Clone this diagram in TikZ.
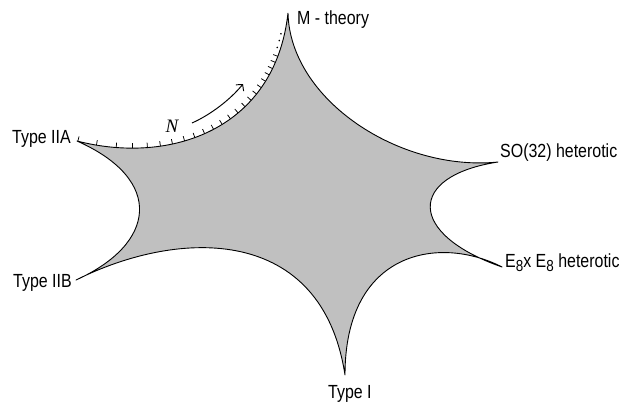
\documentclass[tikz,border=0pt]{standalone}
\usepackage{fontspec}
\setmainfont{Liberation Sans}
\newfontfamily\labfont[FakeStretch=0.84]{Liberation Sans}
\newfontfamily\nfont{Liberation Serif}
\usetikzlibrary{decorations.markings,arrows.meta}
\definecolor{regiongray}{RGB}{192,192,192}
\newcommand{\subeight}{\raisebox{-0.26em}{\fontsize{16}{16}\selectfont 8}}
\begin{document}
\begin{tikzpicture}[x=1pt,y=-1pt,
  lab/.style={font=\labfont\fontsize{19}{21}\selectfont, inner sep=0pt, anchor=base west},
  outline/.style={line width=0.9pt, line join=round},
  tickline/.style={line width=0.75pt}]
\useasboundingbox (0,0) rectangle (630,402);
\coordinate (M) at (288,13);
\coordinate (SO) at (498,162);
\coordinate (EE) at (502,267);
\coordinate (TI) at (345,375);
\coordinate (IIB) at (76,280);
\coordinate (IIA) at (77,141);
\fill[regiongray] (M) .. controls (290,100) and (400,172) .. (SO)
  .. controls (407,176) and (407,234) .. (EE)
  .. controls (440,235) and (345,250) .. (TI)
  .. controls (322,225) and (180,228) .. (IIB)
  .. controls (156,244) and (165,180) .. (IIA)
  .. controls (170,165) and (275,130) .. (M) -- cycle;
\draw[outline] (M) .. controls (290,100) and (400,172) .. (SO)
  .. controls (407,176) and (407,234) .. (EE)
  .. controls (440,235) and (345,250) .. (TI)
  .. controls (322,225) and (180,228) .. (IIB)
  .. controls (156,244) and (165,180) .. (IIA)
  .. controls (170,165) and (275,130) .. (M);
% ticks along the IIA -- M edge
\foreach \p in {0.003,0.07,0.14,0.197,0.25,0.296,0.339,0.383,0.421,0.458,0.493,0.528,0.563,0.597,0.63,0.661,0.69,0.718,0.745,0.771,0.796,0.82,0.843}{
  \path[decorate, decoration={markings, mark=at position \p with {\draw[tickline] (0,0) -- (0,5pt);}}]
    (IIA) .. controls (170,165) and (275,130) .. (M);
}
\foreach \p in {0.872,0.898,0.923}{
  \path[decorate, decoration={markings, mark=at position \p with {\fill (0,3.5pt) circle (0.9pt);}}]
    (IIA) .. controls (170,165) and (275,130) .. (M);
}
% arrow with N
\coordinate (Na) at (192,123);
\coordinate (Nb) at (243,84);
\draw[line width=0.95pt, -{Straight Barb[length=4.5pt,width=10pt]}] (Na) .. controls (210,115) and (230,100) .. (Nb);
\node[font=\nfont\itshape\fontsize{19}{19}\selectfont, inner sep=0pt] (N) at (172,126) {N};
% labels
\node[lab] (lM) at (297,24) {M - theory};
\node[lab] (lIIA) at (12,143) {Type IIA};
\node[lab] (lSO) at (500,157) {SO(32) heterotic};
\node[lab] (lEE) at (505,267) {E\subeight x E\subeight\ heterotic};
\node[lab] (lIIB) at (13,287) {Type IIB};
\node[lab] (lTI) at (328,398) {Type I};
\end{tikzpicture}
\end{document}
